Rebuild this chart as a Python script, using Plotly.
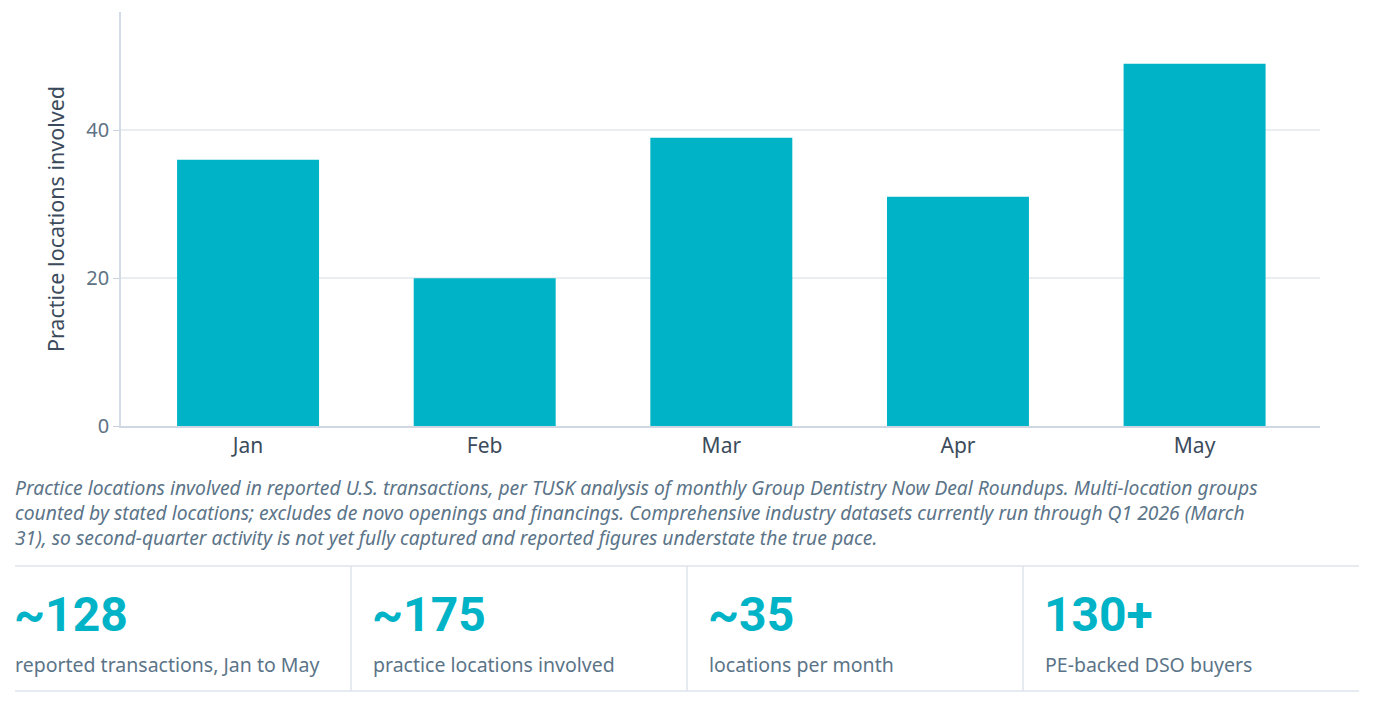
import plotly.graph_objects as go

months = ["Jan", "Feb", "Mar", "Apr", "May"]
locations = [36, 20, 39, 31, 49]
y_ticks = [0, 20, 40]

stat_values = ["~128", "~175", "~35", "130+"]
stat_labels = ["reported transactions, Jan to May", "practice locations involved",
               "locations per month", "PE-backed DSO buyers"]

caption_lines = [
    "Practice locations involved in reported U.S. transactions, per TUSK analysis of monthly Group Dentistry Now Deal Roundups. Multi-location groups",
    "counted by stated locations; excludes de novo openings and financings. Comprehensive industry datasets currently run through Q1 2026 (March",
    "31), so second-quarter activity is not yet fully captured and reported figures understate the true pace.",
]

BAR = "#00b3c6"
TEAL = "#00b3c6"
MUTED = "#5b7488"
DARK = "#3c4b5b"
LINE = "#dde4ec"

W, H = 1376, 704
L, R, T, B = 121, 1320, 12, 426


def px(x):
    return (x - L) / (R - L)


def py(y):
    return (B - y) / (B - T)


fig = go.Figure(go.Bar(x=months, y=locations, marker=dict(color=BAR, line=dict(width=0)),
                       width=0.6, hoverinfo="skip"))

fig.update_layout(
    width=W, height=H,
    margin=dict(l=L, r=W - R, t=T, b=H - B),
    paper_bgcolor="white", plot_bgcolor="white",
    showlegend=False,
    font=dict(family="Noto Sans", color=DARK),
    xaxis=dict(range=[-0.537, 4.53], showgrid=False, showline=True, linecolor="#cfd8e2",
               linewidth=1.5, ticks="", tickfont=dict(size=21, color=DARK), fixedrange=True),
    yaxis=dict(range=[0, 56], tickvals=y_ticks, showgrid=True, gridcolor="#e9eef3",
               gridwidth=1.5, showline=True, linecolor="#d3dbe5", linewidth=1.5,
               ticks="outside", ticklen=6, tickcolor="#c9d2dc",
               tickfont=dict(size=20, color="#5e7284"), zeroline=False,
               title=dict(text="Practice locations involved", font=dict(size=21.5, color=DARK),
                          standoff=16), fixedrange=True),
)

annotations = []
shapes = []

# caption
annotations.append(dict(
    text="<br>".join(caption_lines), xref="paper", yref="paper",
    x=px(13), y=py(512), xanchor="left", yanchor="middle", align="left",
    showarrow=False,
    font=dict(family="Noto Sans", size=19.3, color=MUTED, style="italic"),
))

# stat grid
left_edge, right_edge = 15, 1359
top_line, bottom_line = 566, 691
cell_w = (right_edge - left_edge) / 4
shapes.append(dict(type="line", xref="paper", yref="paper", x0=px(left_edge), x1=px(right_edge),
                   y0=py(top_line), y1=py(top_line), line=dict(color=LINE, width=1.5)))
shapes.append(dict(type="line", xref="paper", yref="paper", x0=px(left_edge), x1=px(right_edge),
                   y0=py(bottom_line), y1=py(bottom_line), line=dict(color=LINE, width=1.5)))
for i in range(1, 4):
    xs = left_edge + cell_w * i
    shapes.append(dict(type="line", xref="paper", yref="paper", x0=px(xs), x1=px(xs),
                       y0=py(top_line), y1=py(bottom_line), line=dict(color=LINE, width=1.5)))

for i, (v, lab) in enumerate(zip(stat_values, stat_labels)):
    x0 = left_edge + cell_w * i + (0 if i == 0 else 22)
    annotations.append(dict(text=f"<b>{v}</b>", xref="paper", yref="paper", x=px(x0 - 3), y=py(614),
                            xanchor="left", yanchor="middle", showarrow=False,
                            font=dict(family="Roboto", size=48, color=TEAL, weight=900)))
    annotations.append(dict(text=lab, xref="paper", yref="paper", x=px(x0 - 2), y=py(664),
                            xanchor="left", yanchor="middle", showarrow=False,
                            font=dict(family="Noto Sans", size=19.5, color=MUTED)))

fig.update_layout(annotations=annotations, shapes=shapes)
fig.write_html("out.html")
